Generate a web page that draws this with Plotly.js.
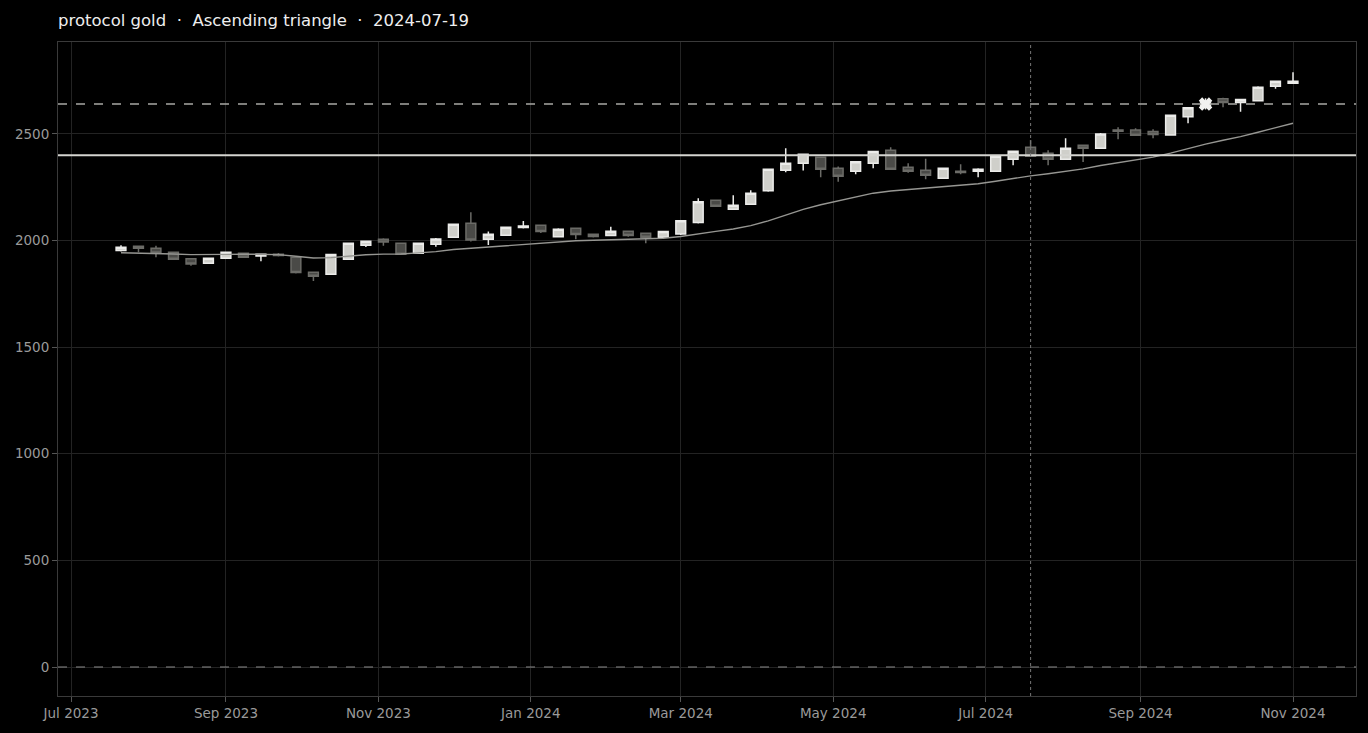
<!DOCTYPE html>
<html>
<head>
<meta charset="utf-8">
<script src="https://cdn.plot.ly/plotly-3.0.1.min.js"></script>
<style>html,body{margin:0;padding:0;background:#000;}#chart{width:1368px;height:733px;}</style>
</head>
<body>
<div id="chart"></div>
<script>
const dates = [
  '2023-07-21','2023-07-28','2023-08-04','2023-08-11','2023-08-18','2023-08-25',
  '2023-09-01','2023-09-08','2023-09-15','2023-09-22','2023-09-29',
  '2023-10-06','2023-10-13','2023-10-20','2023-10-27',
  '2023-11-03','2023-11-10','2023-11-17','2023-11-24',
  '2023-12-01','2023-12-08','2023-12-15','2023-12-22','2023-12-29',
  '2024-01-05','2024-01-12','2024-01-19','2024-01-26',
  '2024-02-02','2024-02-09','2024-02-16','2024-02-23',
  '2024-03-01','2024-03-08','2024-03-15','2024-03-22','2024-03-29',
  '2024-04-05','2024-04-12','2024-04-19','2024-04-26',
  '2024-05-03','2024-05-10','2024-05-17','2024-05-24','2024-05-31',
  '2024-06-07','2024-06-14','2024-06-21','2024-06-28',
  '2024-07-05','2024-07-12','2024-07-19','2024-07-26',
  '2024-08-02','2024-08-09','2024-08-16','2024-08-23','2024-08-30',
  '2024-09-06','2024-09-13','2024-09-20','2024-09-27',
  '2024-10-04','2024-10-11','2024-10-18','2024-10-25',
  '2024-11-01'
];
const open = [1953,1973,1964,1945,1915,1893,1917,1940,1928,1936,1922,1851,1842,1912,1978,2006,1987,1940,1982,2015,2081,2006,2025,2061,2072,2018,2058,2030,2023,2043,2034,2015,2031,2084,2189,2147,2170,2234,2329,2362,2391,2339,2325,2362,2423,2344,2330,2292,2325,2325,2325,2381,2437,2409,2381,2447,2433,2518,2518,2511,2495,2581,2625,2665,2647,2656,2723,2738];
const high = [1978,1974,1976,1948,1916,1919,1948,1942,1938,1941,1925,1853,1937,1990,1999,2011,1989,1990,2012,2078,2133,2042,2066,2092,2074,2058,2060,2033,2065,2046,2036,2044,2096,2198,2190,2212,2236,2338,2433,2407,2393,2347,2372,2420,2437,2362,2384,2341,2358,2339,2397,2421,2472,2423,2480,2449,2504,2531,2527,2522,2590,2625,2667,2670,2663,2724,2749,2789];
const low = [1948,1945,1922,1910,1882,1891,1915,1920,1903,1925,1845,1810,1840,1910,1970,1976,1934,1938,1971,2013,1995,1979,2022,2056,2035,2015,2006,2014,2021,2018,1987,2013,2026,2080,2160,2143,2168,2229,2320,2328,2297,2276,2311,2339,2332,2318,2287,2290,2311,2297,2322,2353,2393,2353,2378,2368,2431,2475,2490,2480,2491,2550,2615,2625,2604,2652,2712,2736];
const close = [1968,1964,1942,1912,1890,1917,1945,1922,1936,1930,1850,1833,1935,1987,1997,1993,1936,1987,2007,2076,2003,2029,2062,2068,2042,2053,2028,2019,2043,2023,2015,2042,2093,2182,2161,2165,2222,2334,2362,2405,2334,2301,2370,2417,2334,2325,2306,2339,2319,2334,2395,2419,2395,2381,2433,2433,2500,2512,2494,2497,2587,2623,2650,2647,2661,2719,2747,2747];
const movingAvg = [1943,1942,1940,1937,1934,1933,1935,1936,1935,1934,1926,1918,1920,1928,1933,1936,1937,1942,1948,1958,1964,1970,1977,1983,1989,1994,1999,2001,2004,2006,2007,2011,2019,2032,2043,2054,2070,2092,2118,2146,2168,2185,2203,2222,2232,2239,2246,2254,2260,2266,2278,2292,2303,2313,2325,2336,2352,2366,2379,2391,2410,2432,2452,2470,2487,2508,2530,2550];

const resistanceLevel = 2400;
const targetLevel = 2640;
const zeroLevel = 0;
const signalDate = '2024-07-19';
const breakoutDate = ['2024-09-27'];
const breakoutPrice = [2640];
const titleText = 'protocol gold  ·  Ascending triangle  ·  2024-07-19';
const xRange = ['2023-06-25 19:00', '2024-11-26 05:00'];
const yRange = [-136, 2931];
const xTickVals = ['2023-07-01','2023-09-01','2023-11-01','2024-01-01','2024-03-01','2024-05-01','2024-07-01','2024-09-01','2024-11-01'];
const xTickText = ['Jul 2023','Sep 2023','Nov 2023','Jan 2024','Mar 2024','May 2024','Jul 2024','Sep 2024','Nov 2024'];
const yTickVals = [0, 500, 1000, 1500, 2000, 2500];

const font = 'DejaVu Sans, sans-serif';

const traces = [
  {
    type: 'scatter', mode: 'lines', x: dates, y: movingAvg,
    line: {color: '#969692', width: 1.4}, hoverinfo: 'skip'
  },
  {
    type: 'candlestick', x: dates, open: open, high: high, low: low, close: close,
    increasing: {fillcolor: '#cfcfca', line: {color: '#ececea', width: 1.5}},
    decreasing: {fillcolor: '#4a4a47', line: {color: '#6b6b67', width: 1.5}},
    whiskerwidth: 0
  },
  {
    type: 'scatter', mode: 'markers', x: breakoutDate, y: breakoutPrice,
    marker: {symbol: 'x', size: 12, color: '#f2f2f0', line: {color: '#f2f2f0', width: 0}}
  }
];

const layout = {
  width: 1368, height: 733,
  paper_bgcolor: '#000', plot_bgcolor: '#000',
  margin: {l: 58, r: 12, t: 42, b: 37},
  showlegend: false,
  boxgap: 0.2, boxgroupgap: 0.3,
  font: {family: font, color: '#999', size: 13},
  title: {
    text: titleText, x: 58/1368, xref: 'container', xanchor: 'left',
    y: 1 - 20/733, yref: 'container', yanchor: 'middle',
    font: {family: font, size: 16.5, color: '#eeeeee'}
  },
  xaxis: {
    type: 'date', range: xRange,
    rangeslider: {visible: false},
    tickvals: xTickVals, ticktext: xTickText,
    showgrid: true, gridcolor: '#232323', gridwidth: 1,
    ticks: 'outside', ticklen: 5, tickcolor: '#555',
    showline: true, linecolor: '#3a3a3a', linewidth: 1, mirror: true,
    zeroline: false,
    tickfont: {family: font, size: 13.5, color: '#9a9a9a'}
  },
  yaxis: {
    range: yRange,
    tickvals: yTickVals,
    showgrid: true, gridcolor: '#232323', gridwidth: 1,
    ticks: 'outside', ticklen: 5, tickcolor: '#555',
    showline: true, linecolor: '#3a3a3a', linewidth: 1, mirror: true,
    zeroline: false,
    tickfont: {family: font, size: 13.5, color: '#9a9a9a'}
  },
  shapes: [
    {type: 'line', xref: 'paper', x0: 0, x1: 1, yref: 'y', y0: zeroLevel, y1: zeroLevel,
     line: {color: '#8a8a8a', width: 1.2, dash: 'dash'}},
    {type: 'line', xref: 'paper', x0: 0, x1: 1, yref: 'y', y0: resistanceLevel, y1: resistanceLevel,
     line: {color: '#d4d4d0', width: 2}},
    {type: 'line', xref: 'paper', x0: 0, x1: 1, yref: 'y', y0: targetLevel, y1: targetLevel,
     line: {color: '#a8a8a4', width: 1.5, dash: 'dash'}},
    {type: 'line', xref: 'x', x0: signalDate, x1: signalDate, yref: 'paper', y0: 0, y1: 1,
     line: {color: '#777', width: 1, dash: 'dot'}}
  ]
};

Plotly.newPlot('chart', traces, layout, {displayModeBar: false, staticPlot: true});
</script>
</body>
</html>
